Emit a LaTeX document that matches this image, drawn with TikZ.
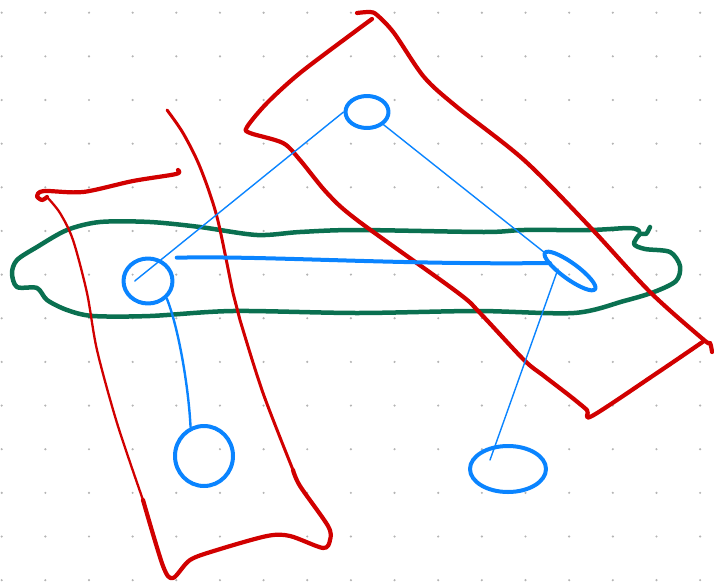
\documentclass[tikz,border=0pt]{standalone}
\usepackage{tikz}
\usetikzlibrary{calc,shapes.geometric}
\definecolor{penred}{HTML}{D10000}
\definecolor{pengreen}{HTML}{0A7050}
\definecolor{penblue}{HTML}{0A84FF}
\definecolor{dotgray}{HTML}{B4B4B4}

\begin{document}
\begin{tikzpicture}[x=1pt,y=-1pt,line cap=round,line join=round,
  vtx/.style={ellipse,draw=penblue,line width=4pt,inner sep=0pt},
  link/.style={penblue,line width=1.4pt},
  edgered/.style={penred,line width=4.2pt},
  edgegreen/.style={pengreen,line width=4.5pt}]
\useasboundingbox (0,0) rectangle (714,586);
% dotted paper
\foreach \i in {0,...,16}
  \foreach \j in {0,...,13}
    \fill[dotgray] (1.7+43.65*\i,12.7+43.65*\j) circle (1.2pt);
% green hyperedge
\draw[edgegreen] plot[smooth] coordinates {(650,227) (646,234) (640,234) (634,244) (645,249) (670,252) (680,266) (676,281) (654,292) (624,301) (574,313) (477,311) (357,313) (233,311) (150,316) (93,316) (67,310) (47,300) (37,288) (17,287) (12,273) (17,260) (37,247) (67,230) (100,222) (150,222) (200,227) (257,235) (300,232) (357,230) (484,232) (524,230) (590,230) (630,228) (639,231)};
% left red hyperedge
\draw[edgered] plot[smooth] coordinates {(178,170) (176,174) (133,181) (83,192) (44,191) (37,196) (42,200) (47,197)};
\draw[penred,line width=2.3pt] plot[smooth] coordinates {(47,197) (60,213) (73,240) (87,293) (97,350) (117,423) (143,500)};
\draw[edgered] plot[smooth] coordinates {(143,500) (163,566) (173,578) (190,560) (217,550) (267,536) (290,536) (323,548) (330,540) (328,526) (300,486) (293,470)};
\draw[penred,line width=3pt] plot[smooth] coordinates {(293,470) (263,393) (240,320) (233,293) (217,217) (200,167) (183,133) (167,110)};
% diagonal red hyperedge
\draw[edgered] plot[smooth] coordinates {(357,13) (370,12) (377,15) (394,33) (424,77) (457,107) (524,160) (590,227) (650,292) (704,340) (710,343) (712,352)};
\draw[edgered] plot[smooth] coordinates {(704,341) (657,373) (592,416) (587,410) (570,396) (544,376) (524,360) (480,313) (457,292) (357,220) (327,193) (300,160) (283,143) (250,133) (247,127) (267,103) (300,73) (353,33) (372,19)};
% vertices
\node[vtx,minimum width=43pt,minimum height=32pt] (vT) at (367,112) {};
\node[vtx,minimum width=49pt,minimum height=45pt] (vL) at (148,281) {};
\node[vtx,minimum width=58pt,minimum height=60pt] (vBL) at (204,456) {};
\node[vtx,minimum width=62pt,minimum height=16pt,rotate=-36] (vR) at (570,271) {};
\node[vtx,minimum width=76pt,minimum height=46pt] (vBR) at (508,469) {};
% links
\draw[link] (vT.west) -- ($(vL)!.5!(vL.west)$);
\draw[link] (vT.south east) -- (vR.west);
\draw[penblue,line width=4pt] ($(vL.north east)+(10,-6)$) .. controls +(90,-2) and +(-150,2) .. ($(vR)+(-20,-8)$);
\draw[penblue,line width=2.4pt] (vL.south east) .. controls +(12,30) and +(-2,-40) .. (vBL.115);
\draw[link] ($(vR)+(-12,-2)$) -- ($(vBR)+(-18,-9)$);
\end{tikzpicture}
\end{document}
